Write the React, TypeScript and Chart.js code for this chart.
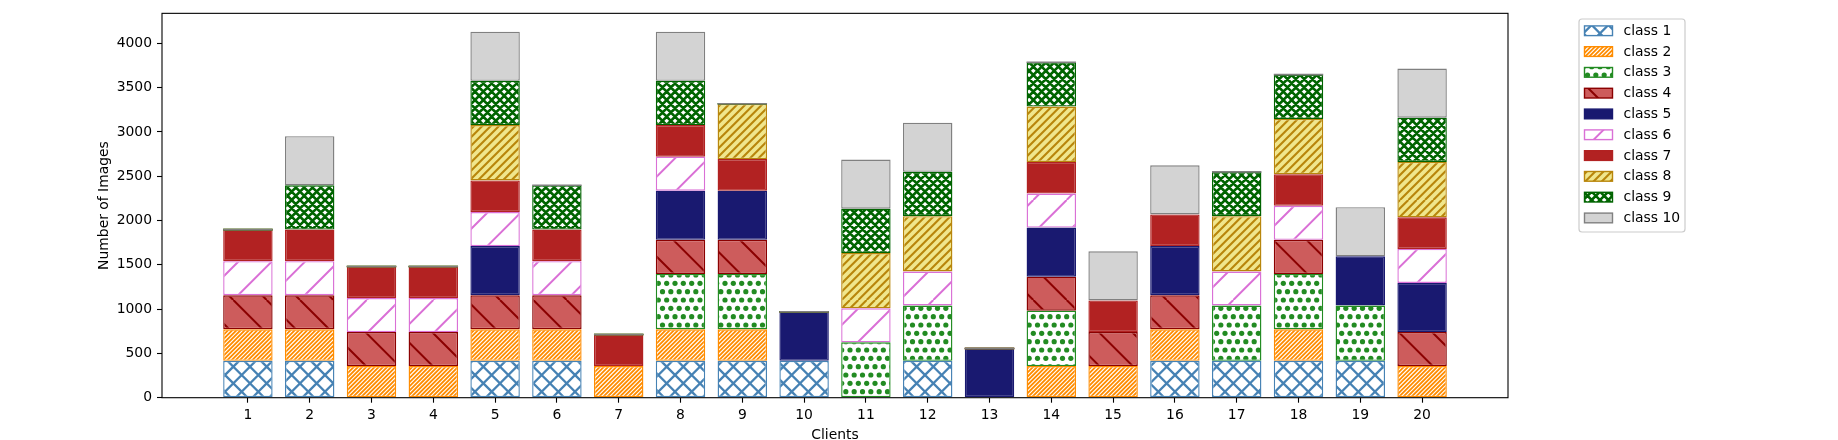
import { useEffect, useRef } from 'react'
import { Chart, registerables } from 'chart.js'

Chart.register(...registerables)

const clients = [1, 2, 3, 4, 5, 6, 7, 8, 9, 10, 11, 12, 13, 14, 15, 16, 17, 18, 19, 20]
const classNames = ['class 1', 'class 2', 'class 3', 'class 4', 'class 5', 'class 6', 'class 7', 'class 8', 'class 9', 'class 10']

// images per client for each class
const class1 = [416, 416, 0, 0, 416, 416, 0, 416, 416, 416, 0, 416, 0, 0, 0, 416, 416, 416, 416, 0]
const class2 = [357, 357, 357, 357, 357, 357, 357, 357, 357, 0, 0, 0, 0, 357, 357, 357, 0, 357, 0, 357]
const class3 = [0, 0, 0, 0, 0, 0, 0, 625, 625, 0, 625, 625, 0, 625, 0, 0, 625, 625, 625, 0]
const class4 = [384, 384, 384, 384, 384, 384, 0, 384, 384, 0, 0, 0, 0, 384, 384, 384, 0, 384, 0, 384]
const class5 = [0, 0, 0, 0, 555, 0, 0, 555, 555, 555, 0, 0, 555, 555, 0, 555, 0, 0, 555, 555]
const class6 = [384, 384, 384, 384, 384, 384, 0, 384, 0, 0, 384, 384, 0, 384, 0, 0, 384, 384, 0, 384]
const class7 = [357, 357, 357, 357, 357, 357, 357, 357, 357, 0, 0, 0, 0, 357, 357, 357, 0, 357, 0, 357]
const class8 = [0, 0, 0, 0, 625, 0, 0, 0, 625, 0, 625, 625, 0, 625, 0, 0, 625, 625, 0, 625]
const class9 = [0, 500, 0, 0, 500, 500, 0, 500, 0, 0, 500, 500, 0, 500, 0, 0, 500, 500, 0, 500]
const class10 = [0, 555, 0, 0, 555, 0, 0, 555, 0, 0, 555, 555, 0, 0, 555, 555, 0, 0, 555, 555]

const series = [class1, class2, class3, class4, class5, class6, class7, class8, class9, class10]
const yTicks = [0, 500, 1000, 1500, 2000, 2500, 3000, 3500, 4000]

const faces = ['#ffffff', '#ffffff', '#ffffff', '#cd5c5c', '#191970', '#ffffff', '#b22222', '#f0e68c', '#ffffff', '#d3d3d3']
const edges = ['#4682b4', '#ff8c00', '#228b22', '#8b0000', '#191970', '#da70d6', '#b22222', '#b8860b', '#006400', '#808080']

type Hatch = { kind: 'none' | 'fwd' | 'back' | 'cross' | 'dots'; n: number; lw: number }
const hatches: Hatch[] = [
  { kind: 'cross', n: 6, lw: 2.3 },
  { kind: 'fwd', n: 24, lw: 1.8 },
  { kind: 'dots', n: 12, lw: 2.6 },
  { kind: 'back', n: 3, lw: 2 },
  { kind: 'none', n: 0, lw: 0 },
  { kind: 'fwd', n: 3, lw: 2 },
  { kind: 'none', n: 0, lw: 0 },
  { kind: 'fwd', n: 12, lw: 2.1 },
  { kind: 'cross', n: 12, lw: 2.6 },
  { kind: 'none', n: 0, lw: 0 },
]

const FONT = 'DejaVu Sans'
const FS = 13.9

function makeFill(face: string, edge: string, h: Hatch): CanvasPattern | string {
  if (h.kind === 'none') return face
  const T = 100
  const c = document.createElement('canvas')
  c.width = T
  c.height = T
  const g = c.getContext('2d')!
  g.fillStyle = face
  g.fillRect(0, 0, T, T)
  const step = T / h.n
  if (h.kind === 'dots') {
    g.fillStyle = edge
    for (let r = 0; r <= h.n; r++) {
      const shift = r % 2 === 0 ? 0 : step / 2
      for (let k = 0; k <= h.n; k++) {
        g.beginPath()
        g.arc(shift + k * step, r * step, h.lw, 0, Math.PI * 2)
        g.fill()
      }
    }
  } else {
    g.strokeStyle = edge
    g.lineWidth = h.lw
    g.beginPath()
    for (let k = -h.n; k <= 2 * h.n; k++) {
      const x0 = k * step
      if (h.kind === 'fwd' || h.kind === 'cross') {
        g.moveTo(x0, T)
        g.lineTo(x0 + T, 0)
      }
      if (h.kind === 'back' || h.kind === 'cross') {
        g.moveTo(x0, 0)
        g.lineTo(x0 + T, T)
      }
    }
    g.stroke()
  }
  return g.createPattern(c, 'repeat')!
}

// zero-height bars at the top of a stack still show their edge, as in matplotlib
const topEdges = {
  id: 'topEdges',
  afterDatasetsDraw(chart: any) {
    const { ctx, chartArea } = chart
    const sets = chart.data.datasets
    ctx.save()
    for (let i = 0; i < clients.length; i++) {
      let last = -1
      sets.forEach((ds: any, j: number) => {
        if (ds.data[i].y > 0) last = j
      })
      for (let j = last + 1; j < sets.length; j++) {
        const el = chart.getDatasetMeta(j).data[i]
        const { x, y, width } = el.getProps(['x', 'y', 'width'], true)
        ctx.strokeStyle = sets[j].borderColor
        ctx.lineWidth = 1.6
        ctx.beginPath()
        ctx.moveTo(x - width / 2, y)
        ctx.lineTo(x + width / 2, y)
        ctx.stroke()
      }
    }
    // axes frame
    ctx.strokeStyle = '#000'
    ctx.lineWidth = 1.1
    ctx.strokeRect(chartArea.left, chartArea.top, chartArea.right - chartArea.left, chartArea.bottom - chartArea.top)
    ctx.restore()
  },
}

const legendBox = {
  id: 'legendBox',
  afterDraw(chart: any) {
    const { ctx } = chart
    const sets = chart.data.datasets
    const left = 1579
    const top = 19
    const w = 106
    const h = 213
    ctx.save()
    ctx.beginPath()
    ctx.roundRect(left, top, w, h, 3)
    ctx.fillStyle = 'rgba(255,255,255,0.8)'
    ctx.fill()
    ctx.strokeStyle = '#cccccc'
    ctx.lineWidth = 1.2
    ctx.stroke()
    ctx.font = `${FS}px "${FONT}"`
    ctx.textBaseline = 'middle'
    ctx.textAlign = 'left'
    sets.forEach((ds: any, i: number) => {
      const cy = 30.7 + i * 20.8
      ctx.fillStyle = ds.backgroundColor
      ctx.fillRect(1584.5, cy - 4.8, 28, 9.7)
      ctx.strokeStyle = ds.borderColor
      ctx.lineWidth = 1.4
      ctx.strokeRect(1584.5, cy - 4.8, 28, 9.7)
      ctx.fillStyle = '#000'
      ctx.fillText(ds.label, 1623.5, cy + 0.5)
    })
    ctx.restore()
  },
}

export default function App() {
  const canvasRef = useRef<HTMLCanvasElement>(null)
  const chartRef = useRef<Chart | null>(null)

  useEffect(() => {
    document.body.style.margin = '0'
    if (!canvasRef.current) return
    if (chartRef.current) chartRef.current.destroy()

    const totals = clients.map((_, i) => series.reduce((s, arr) => s + arr[i], 0))
    const yMax = Math.max(...totals) * 1.05

    chartRef.current = new Chart(canvasRef.current, {
      type: 'bar',
      data: {
        datasets: series.map((arr, k) => ({
          label: classNames[k],
          data: clients.map((c, i) => ({ x: c, y: arr[i] })),
          backgroundColor: makeFill(faces[k], edges[k], hatches[k]) as any,
          borderColor: edges[k],
          borderWidth: 1.4,
          borderSkipped: false,
          barPercentage: 1,
          categoryPercentage: 0.8,
        })),
      },
      options: {
        responsive: false,
        animation: false,
        devicePixelRatio: 1,
        layout: { padding: { left: 0, top: 11.3, right: 330, bottom: 0 } },
        plugins: { legend: { display: false }, tooltip: { enabled: false } },
        scales: {
          x: {
            type: 'linear',
            stacked: true,
            offset: false,
            min: 1 - 1.39,
            max: 20 + 1.39,
            afterBuildTicks: (s: any) => { s.ticks = clients.map((v) => ({ value: v })) },
            afterFit: (s: any) => { s.height = 42.3 },
            grid: { display: true, offset: false, drawOnChartArea: false, drawTicks: true, tickLength: 5, tickWidth: 1.1, tickColor: '#000' },
            border: { display: false },
            ticks: {
              autoSkip: false,
              maxRotation: 0,
              padding: 4.5,
              color: '#000',
              font: { family: FONT, size: FS },
              callback: (v: any) => String(v),
            },
            title: {
              display: true,
              text: 'Clients',
              color: '#000',
              font: { family: FONT, size: FS, lineHeight: 0.72 },
              padding: { top: 0, bottom: 0 },
            },
          },
          y: {
            stacked: true,
            min: 0,
            max: yMax,
            afterBuildTicks: (s: any) => { s.ticks = yTicks.map((v) => ({ value: v })) },
            afterFit: (s: any) => { s.width = 162 },
            grid: { display: true, drawOnChartArea: false, drawTicks: true, tickLength: 5, tickWidth: 1.1, tickColor: '#000' },
            border: { display: false },
            ticks: {
              padding: 5,
              color: '#000',
              font: { family: FONT, size: FS },
              callback: (v: any) => String(v),
            },
            title: {
              display: true,
              text: 'Number of Images',
              color: '#000',
              font: { family: FONT, size: FS, lineHeight: 1.2 },
              padding: { top: 95.9, bottom: 0 },
            },
          },
        },
      },
      plugins: [topEdges, legendBox],
    })
    return () => { chartRef.current?.destroy() }
  }, [])

  return (
    <div style={{ width: 1838, height: 440 }}>
      <canvas ref={canvasRef} width={1838} height={440} style={{ display: 'block', width: 1838, height: 440 }} />
    </div>
  )
}
